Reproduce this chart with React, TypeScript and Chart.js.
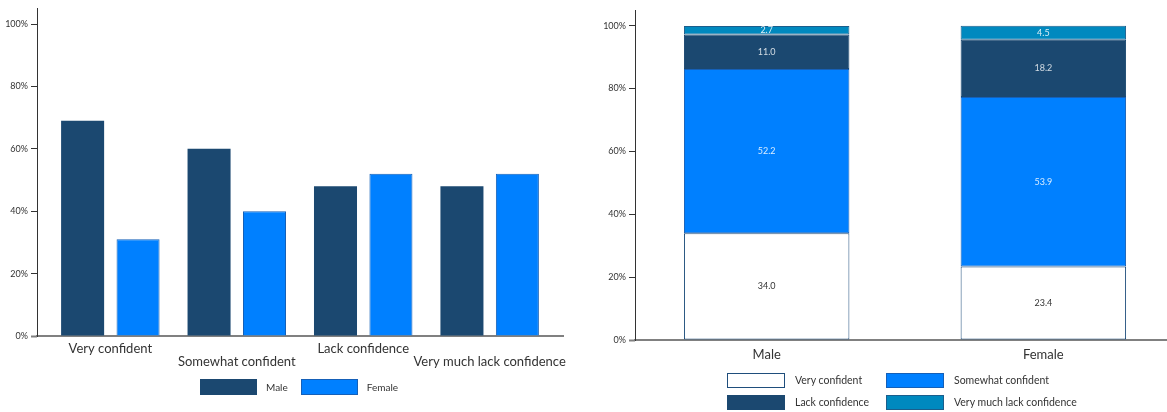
import React, { useEffect, useRef } from 'react';
import { Chart, registerables } from 'chart.js';

Chart.register(...registerables);

const FONT = 'Lato, "DejaVu Sans", sans-serif';

// ---- data ----
const confidenceLevels = ['Very confident', 'Somewhat confident', 'Lack confidence', 'Very much lack confidence'];
const genders = ['Male', 'Female'];

// left chart: share of each confidence level by gender (%)
const maleShare = [69, 60, 48, 48];
const femaleShare = [31, 40, 52, 52];

// right chart: distribution of confidence within gender (%)
const veryConfident = [34.0, 23.4];
const somewhatConfident = [52.2, 53.9];
const lackConfidence = [11.0, 18.2];
const veryMuchLack = [2.7, 4.5];

const yTicks = [0, 20, 40, 60, 80, 100];

// ---- styles ----
const NAVY = '#1B4870';
const BLUE = '#0080FF';
const TEAL = '#0089BF';
const genderColors = [NAVY, BLUE];
const genderBorders = [NAVY, '#1560B8'];
const levelColors = ['#FFFFFF', BLUE, NAVY, TEAL];
const levelBorders = ['#1F4E7C', '#1560B8', '#1B4870', '#1B5E8C'];
const levelLabelColors = ['#333333', 'rgba(255,255,255,0.85)', 'rgba(255,255,255,0.8)', 'rgba(255,255,255,0.85)'];

const toPoints = (arr: number[]) => arr.map((v, i) => ({ x: i, y: v }));

const yAxis = (width: number) => ({
  min: 0,
  max: 105,
  bounds: 'data' as const,
  afterBuildTicks: (s: any) => {
    s.ticks = yTicks.map((v) => ({ value: v }));
  },
  afterFit: (s: any) => {
    s.width = width;
  },
  grid: {
    drawOnChartArea: false,
    drawTicks: true,
    tickLength: 6,
    tickColor: (c: any) => (c.tick && c.tick.value === 0 ? '#808080' : '#333333'),
    tickWidth: (c: any) => (c.tick && c.tick.value === 0 ? 2 : 1),
  },
  border: { display: true, color: '#333333', width: 1 },
  ticks: {
    padding: 3,
    color: '#333333',
    font: { family: FONT, size: 9 },
    callback: (v: any) => v + '%',
  },
});

const valueLabels = {
  id: 'valueLabels',
  afterDatasetsDraw(chart: any) {
    const ctx = chart.ctx;
    ctx.save();
    ctx.font = `9px ${FONT}`;
    ctx.textAlign = 'center';
    ctx.textBaseline = 'middle';
    chart.data.datasets.forEach((ds: any, di: number) => {
      const meta = chart.getDatasetMeta(di);
      meta.data.forEach((el: any, i: number) => {
        const v = ds.data[i].y as number;
        const { x, y, base } = el.getProps(['x', 'y', 'base'], true);
        ctx.fillStyle = levelLabelColors[di];
        ctx.fillText(v.toFixed(1), x, (y + base) / 2);
      });
    });
    ctx.restore();
  },
};

function LeftChart() {
  const ref = useRef<HTMLCanvasElement>(null);
  useEffect(() => {
    const series = [maleShare, femaleShare];
    const chart = new Chart(ref.current!, {
      type: 'bar',
      data: {
        datasets: genders.map((g, k) => ({
          label: g,
          data: toPoints(series[k]),
          backgroundColor: genderColors[k],
          borderColor: genderBorders[k],
          borderWidth: k === 0 ? 0 : 1,
          categoryPercentage: 0.877,
          barPercentage: 0.776,
        })),
      },
      options: {
        animation: false,
        responsive: false,
        layout: { padding: { left: 0, top: 5, right: 17, bottom: 0 } },
        plugins: { legend: { display: false }, tooltip: { enabled: false } },
        scales: {
          x: {
            type: 'linear',
            min: -0.58,
            max: 3.58,
            bounds: 'data',
            offset: false,
            afterBuildTicks: (s: any) => {
              s.ticks = confidenceLevels.map((_, i) => ({ value: i }));
            },
            afterFit: (s: any) => {
              s.height = 76;
            },
            grid: { display: false, drawTicks: false, offset: false },
            border: { display: true, color: '#808080', width: 2 },
            ticks: {
              autoSkip: false,
              maxRotation: 0,
              minRotation: 0,
              padding: 7,
              color: '#333333',
              font: { family: FONT, size: 13, lineHeight: 0.95 },
              callback: (_v: any, i: number) => (i % 2 ? ['', confidenceLevels[i]] : confidenceLevels[i]),
            },
          },
          y: yAxis(37),
        },
      } as any,
    });
    return () => chart.destroy();
  }, []);
  return <canvas ref={ref} width={580} height={412} />;
}

function RightChart() {
  const ref = useRef<HTMLCanvasElement>(null);
  useEffect(() => {
    const series = [veryConfident, somewhatConfident, lackConfidence, veryMuchLack];
    const chart = new Chart(ref.current!, {
      type: 'bar',
      data: {
        datasets: confidenceLevels.map((lv, k) => ({
          label: lv,
          data: toPoints(series[k]),
          backgroundColor: levelColors[k],
          borderColor: levelBorders[k],
          borderWidth: 1,
          borderSkipped: false,
          categoryPercentage: 1,
          barPercentage: 0.598,
        })),
      },
      options: {
        animation: false,
        responsive: false,
        layout: { padding: { left: 0, top: 10, right: 0, bottom: 0 } },
        plugins: { legend: { display: false }, tooltip: { enabled: false } },
        scales: {
          x: {
            type: 'linear',
            stacked: true,
            min: -0.476,
            max: 1.447,
            bounds: 'data',
            offset: false,
            afterBuildTicks: (s: any) => {
              s.ticks = genders.map((_, i) => ({ value: i }));
            },
            afterFit: (s: any) => {
              s.height = 72;
            },
            grid: { display: false, drawTicks: false, offset: false },
            border: { display: true, color: '#808080', width: 2 },
            ticks: {
              autoSkip: false,
              maxRotation: 0,
              minRotation: 0,
              padding: 7,
              color: '#333333',
              font: { family: FONT, size: 13 },
              callback: (_v: any, i: number) => genders[i],
            },
          },
          y: { ...yAxis(50), stacked: true },
        },
      } as any,
      plugins: [valueLabels],
    });
    return () => chart.destroy();
  }, []);
  return <canvas ref={ref} width={582} height={412} />;
}

const textStyle: React.CSSProperties = {
  fontFamily: FONT,
  color: '#333333',
  whiteSpace: 'nowrap',
};

function LeftLegend() {
  return (
    <div style={{ position: 'absolute', left: 200, top: 379, display: 'flex', alignItems: 'center', ...textStyle, fontSize: 10 }}>
      {genders.map((g, k) => (
        <React.Fragment key={g}>
          <span
            style={{
              display: 'inline-block',
              width: 57,
              height: 16,
              boxSizing: 'border-box',
              background: genderColors[k],
              border: `1px solid ${genderBorders[k]}`,
              marginLeft: k === 0 ? 0 : 13,
            }}
          />
          <span style={{ marginLeft: 9 }}>{g}</span>
        </React.Fragment>
      ))}
    </div>
  );
}

function RightLegend() {
  return (
    <div
      style={{
        position: 'absolute',
        left: 727,
        top: 373,
        display: 'grid',
        gridTemplateColumns: '159px auto',
        gridAutoRows: '22px',
        ...textStyle,
        fontSize: 10.5,
      }}
    >
      {confidenceLevels.map((lv, k) => (
        <div key={lv} style={{ display: 'flex', alignItems: 'flex-start' }}>
          <span
            style={{
              display: 'inline-block',
              width: 58,
              height: 15,
              boxSizing: 'border-box',
              background: levelColors[k],
              border: `1.5px solid ${levelBorders[k]}`,
            }}
          />
          <span style={{ marginLeft: 10, lineHeight: '15px' }}>{lv}</span>
        </div>
      ))}
    </div>
  );
}

export default function App() {
  return (
    <div style={{ position: 'absolute', left: 0, top: 0, width: 1167, height: 412, overflow: 'hidden', background: '#fff' }}>
      <div style={{ position: 'absolute', left: 0, top: 0 }}>
        <LeftChart />
      </div>
      <div style={{ position: 'absolute', left: 585, top: 0 }}>
        <RightChart />
      </div>
      <LeftLegend />
      <RightLegend />
    </div>
  );
}
